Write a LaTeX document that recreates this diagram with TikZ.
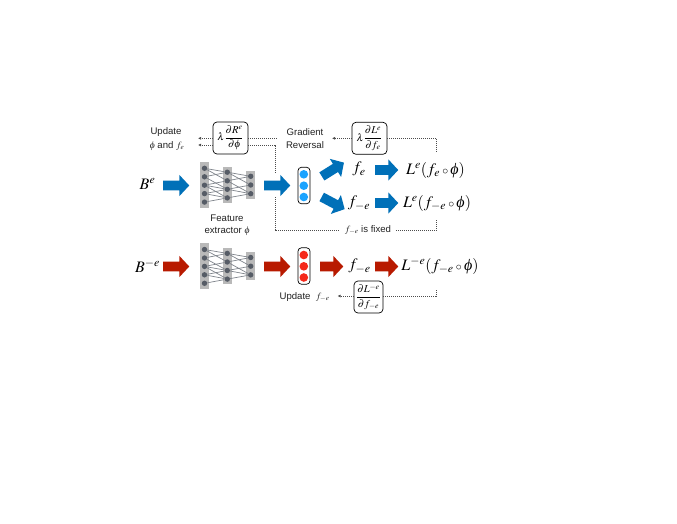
\documentclass[tikz,border=0pt]{standalone}
\usepackage{amsmath}
\usepackage{mathptmx}
\usepackage[no-math]{fontspec}
\setmainfont{Liberation Sans}
\newfontfamily\phif{Liberation Serif}
\newcommand{\myphi}{\mbox{\phif\itshape\symbol{"03D5}}}
\newcommand{\smallcomp}{\mathbin{\scriptstyle\circ}}
\usetikzlibrary{shapes.arrows,arrows.meta}
\definecolor{ablue}{HTML}{0070B8}
\definecolor{ared}{HTML}{B81A00}
\definecolor{dblue}{HTML}{1AA3FF}
\definecolor{dred}{HTML}{F5281A}
\definecolor{barc}{HTML}{B9B9B9}
\definecolor{netd}{HTML}{565C66}
\definecolor{txt}{HTML}{222222}
\tikzset{
 x=1pt,y=-1pt,
 blockarrow/.style={single arrow,minimum height=26pt,minimum width=21pt,inner xsep=0pt,inner ysep=4.6pt,outer sep=0pt,
   single arrow head extend=5.9pt,single arrow tip angle=94,single arrow head indent=0pt,draw=none},
 bluearrow/.style={blockarrow,fill=ablue},
 redarrow/.style={blockarrow,fill=ared},
 bigmath/.style={inner sep=0pt,font=\fontsize{16}{18}\selectfont},
 lab/.style={inner sep=0pt,text=txt,font=\fontsize{9.6}{11}\selectfont},
 gradbox/.style={draw=black,line width=.7pt,rounded corners=4pt,inner sep=0pt,fill=white,font=\fontsize{10.5}{12}\selectfont},
 pill/.style={draw=black,line width=.7pt,rounded corners=3.5pt,minimum width=12pt,minimum height=36.5pt,inner sep=0pt},
 ndot/.style={circle,fill=netd,minimum size=5.4pt,inner sep=0pt},
 odot/.style={circle,minimum size=8.6pt,inner sep=0pt},
 netbar/.style={fill=barc,inner sep=0pt},
 netline/.style={draw=netd!75,line width=.7pt},
 dotline/.style={draw=black!70,line width=.6pt,dash pattern=on .9pt off 1.1pt},
 dotarrow/.style={dotline,-{Latex[length=3pt,width=3pt]}},
}
\newcommand{\myNet}[2]{%
 \node[netbar,minimum width=9pt,minimum height=46pt] at (204.5,#2+185) {};
 \node[netbar,minimum width=8.5pt,minimum height=36.5pt] at (227.3,#2+185) {};
 \node[netbar,minimum width=9pt,minimum height=28pt] at (250.7,#2+185) {};
 \foreach \i/\yy in {1/168.3,2/176.8,3/185.2,4/193.6,5/202.1}
   \node[ndot] (#1a\i) at (204.5,#2+\yy) {};
 \foreach \i/\yy in {1/172.2,2/180.8,3/189.3,4/197.9}
   \node[ndot] (#1b\i) at (227.3,#2+\yy) {};
 \foreach \i/\yy in {1/176.3,2/185,3/193.7}
   \node[ndot] (#1c\i) at (250.7,#2+\yy) {};
 \foreach \u/\v in {a1/b1,a1/b2,a2/b1,a2/b3,a3/b2,a3/b3,a3/b4,a4/b3,a4/b4,a5/b4,b1/c1,b1/c2,b2/c1,b2/c3,b3/c2,b3/c3,b4/c3}
   \draw[netline] (#1\u) -- (#1\v);
}
\begin{document}
\begin{tikzpicture}
\useasboundingbox (0,0) rectangle (677,523);
\fill[white] (0,0) rectangle (677,523);
% networks
\myNet{p}{0}
\myNet{q}{81.2}
% inputs
\node[bigmath] (be) at (147.5,184) {$B^{e}$};
\node[bigmath] (bme) at (147.5,266) {$B^{-e}$};
% block arrows
\node[bluearrow] (a1) at (174,185.5) {};
\node[bluearrow] (a2) at (275,185.5) {};
\node[redarrow] (a3) at (174,266.5) {};
\node[redarrow] (a4) at (275,266.5) {};
\node[bluearrow,rotate=32] (a5) at (331,170.7) {};
\node[bluearrow,rotate=-28] (a6) at (331.2,202) {};
\node[bluearrow,minimum height=23pt] (a7) at (384.5,170) {};
\node[bluearrow,minimum height=23pt] (a8) at (384.5,203) {};
\node[redarrow,minimum height=23pt] (a9) at (329.5,266.5) {};
\node[redarrow,minimum height=23pt] (a10) at (384.5,266.5) {};
% pills
\node[pill] (p1) at (304,185.5) {};
\node[odot,fill=dblue] (p1a) at (303.8,174.3) {};
\node[odot,fill=dblue] (p1b) at (303.8,185.7) {};
\node[odot,fill=dblue] (p1c) at (303.8,197) {};
\node[pill] (p2) at (304,266) {};
\node[odot,fill=dred] (p2a) at (303.8,255) {};
\node[odot,fill=dred] (p2b) at (303.8,266.3) {};
\node[odot,fill=dred] (p2c) at (303.8,277.5) {};
% formulas
\node[bigmath] (fe) at (359,169) {$f_{e}$};
\node[bigmath] (fme) at (359,203) {$f_{-e}$};
\node[bigmath] (fm2) at (359.5,266) {$f_{-e}$};
\node[bigmath] (l1) at (435.5,170) {$L^{e}(f_{e}\smallcomp\myphi)$};
\node[bigmath] (l2) at (437,203) {$L^{e}(f_{-e}\smallcomp\myphi)$};
\node[bigmath] (l3) at (440,266) {$L^{-e}(f_{-e}\smallcomp\myphi)$};
% gradient boxes
\node[gradbox,minimum width=35pt,minimum height=32pt] (g1) at (230.5,138) {$\lambda\dfrac{\partial R^{e}}{\partial\myphi}$};
\node[gradbox,minimum width=35pt,minimum height=32pt] (g2) at (369.5,138.3) {$\lambda\dfrac{\partial L^{e}}{\partial f_{e}}$};
\node[gradbox,minimum width=29pt,minimum height=32pt] (g3) at (368.5,297) {$\dfrac{\partial L^{-e}}{\partial f_{-e}}$};
% labels
\node[lab] (u1) at (166,131.7) {Update};
\node[lab] (u2) at (167,146) {$\myphi$ and $f_{e}$};
\node[lab] (gr1) at (305,132) {Gradient};
\node[lab] (gr2) at (305,145) {Reversal};
\node[lab] (fx1) at (227,218) {Feature};
\node[lab] (fx2) at (227,231.5) {extractor $\myphi$};
\node[lab] (fix) at (368,230) {$f_{-e}$ is fixed};
\node[lab] (u3) at (304.5,297) {Update\ \ $f_{-e}$};
% connector ends
\coordinate (t1) at (198,138.3);
\coordinate (t2) at (198,145);
\coordinate (t3) at (278,138.3);
\coordinate (t4) at (275,145);
\coordinate (t5) at (275,172.7);
\coordinate (t6) at (275,197.3);
\coordinate (t7) at (275,230);
\coordinate (t8) at (339.5,230);
\coordinate (t9) at (396,230);
\coordinate (t10) at (436.7,230);
\coordinate (t11) at (436.7,220);
\coordinate (t12) at (332,138.3);
\coordinate (t13) at (436.7,138.3);
\coordinate (t14) at (436.7,152);
\coordinate (t15) at (337.5,296);
\coordinate (t16) at (436,296);
\coordinate (t17) at (436,290);
% dotted connectors
\draw[dotarrow] (g1.west |- t1) -- (t1);
\draw[dotarrow] (g1.west |- t2) -- (t2);
\draw[dotline] (g1.east |- t3) -- (t3);
\draw[dotline] (g1.east |- t4) -- (t4) -- (t5);
\draw[dotline] (t6) -- (t7) -- (t8);
\draw[dotline] (t9) -- (t10) -- (t11);
\draw[dotarrow] (g2.west |- t12) -- (t12);
\draw[dotline] (g2.east |- t13) -- (t13) -- (t14);
\draw[dotarrow] (g3.west |- t15) -- (t15);
\draw[dotline] (g3.east |- t16) -- (t16) -- (t17);
\end{tikzpicture}
\end{document}
